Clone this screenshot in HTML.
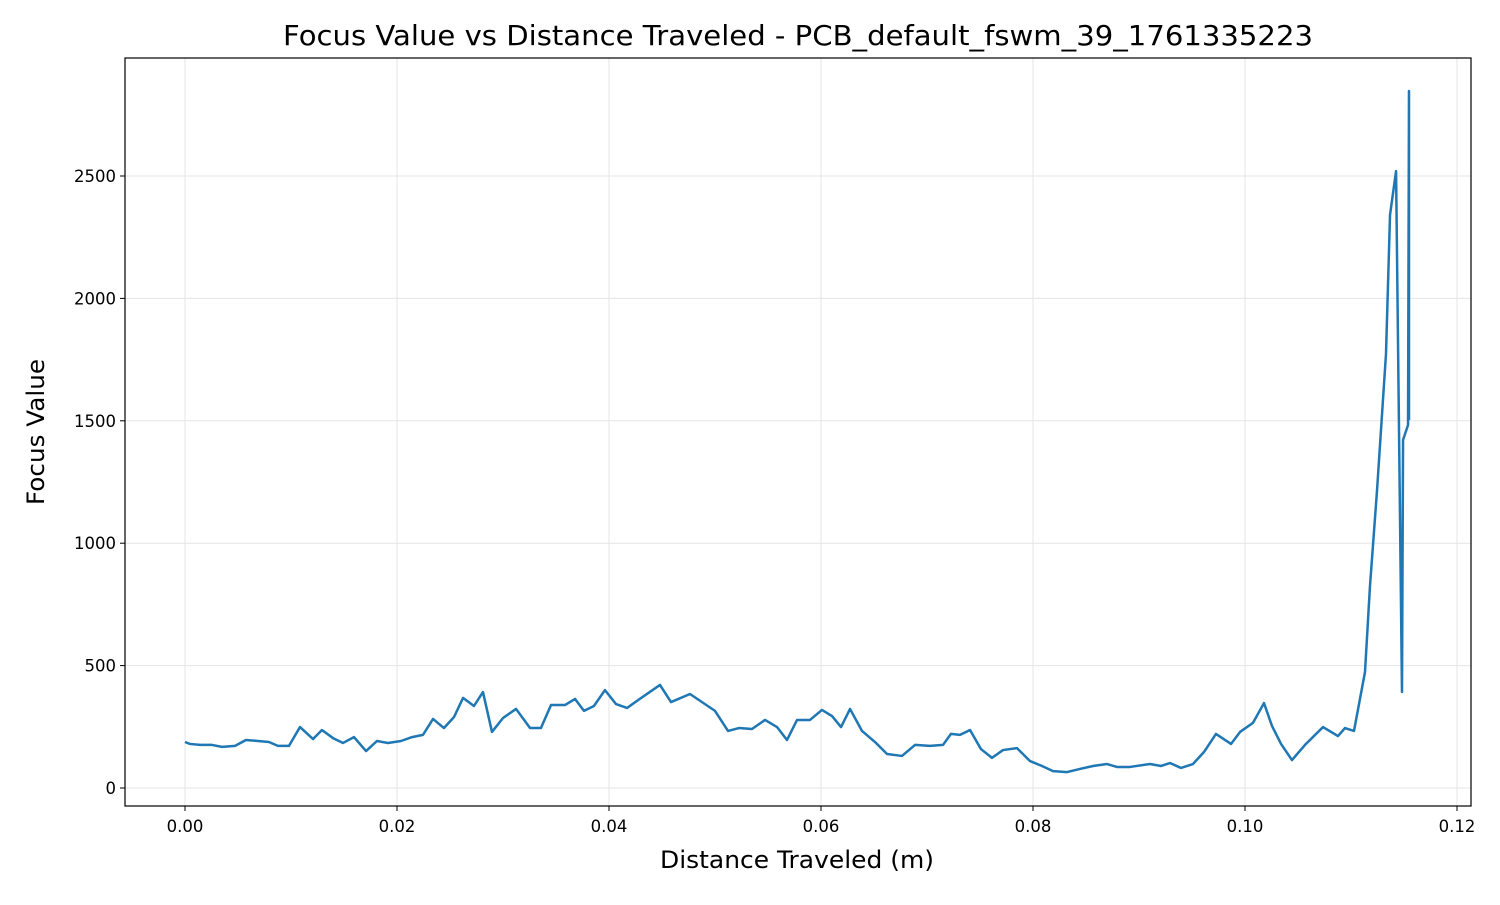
<!DOCTYPE html>
<html><head><meta charset="utf-8"><style>
body{margin:0;background:#fff;}
svg text{font-family:"DejaVu Sans","Liberation Sans",sans-serif;fill:#000;}
</style></head><body>
<svg id="chart" width="1500" height="900" xmlns="http://www.w3.org/2000/svg">
<rect width="1500" height="900" fill="#fff"/>
<text x="798" y="45" font-size="28" text-anchor="middle" textLength="1030" lengthAdjust="spacingAndGlyphs">Focus Value vs Distance Traveled - PCB_default_fswm_39_1761335223</text>
<text x="797" y="868" font-size="24" text-anchor="middle" textLength="274" lengthAdjust="spacingAndGlyphs">Distance Traveled (m)</text>
<text x="0" y="0" font-size="24" text-anchor="middle" textLength="146" lengthAdjust="spacingAndGlyphs" transform="translate(44,432) rotate(-90)">Focus Value</text>
<g id="grid"></g><g id="ticks"></g><g id="series"></g>
<rect x="125" y="58" width="1346" height="748" fill="none" stroke="#000" stroke-width="1.2"/>
</svg>
<script>
const distanceMm=[0,0.47,1.42,2.55,3.49,4.72,5.75,6.89,7.92,8.77,9.81,10.85,12.08,12.92,13.96,14.91,15.94,17.08,18.11,19.15,20.38,21.42,22.45,23.40,24.43,25.38,26.23,27.26,28.11,28.96,30.00,31.23,32.55,33.58,34.53,35.85,36.79,37.64,38.58,39.62,40.66,41.70,42.74,44.81,45.85,47.64,50.00,51.23,52.26,53.49,54.72,55.85,56.79,57.74,58.96,60.09,61.04,61.89,62.74,63.87,65.19,66.23,67.64,68.87,70.28,71.51,72.26,73.11,74.06,75.09,76.13,77.17,78.49,79.72,80.85,81.89,83.21,84.43,85.66,86.98,87.92,89.15,91.04,92.08,92.92,93.96,95.09,96.13,97.26,98.68,99.53,100.75,101.79,102.55,103.40,104.43,105.66,107.36,108.77,109.43,110.28,111.32,111.79,112.45,113.30,113.68,114.25,114.81,114.91,115.38,115.47,115.47];
const focusValues=[188,180,176,176,168,172,196,192,188,172,172,249,200,237,204,184,208,151,192,184,192,208,217,282,245,290,368,335,392,229,286,323,245,245,339,339,364,315,335,400,343,327,359,421,351,384,315,233,245,241,278,249,196,278,278,319,294,249,323,233,184,139,131,176,172,176,221,217,237,159,123,155,163,110,90,69,65,78,90,98,86,86,98,90,102,82,98,147,221,180,229,266,347,253,180,114,176,249,212,245,233,474,825,1213,1773,2341,2520,392,1422,1483,2847,1503];
const xTicks=[0,0.02,0.04,0.06,0.08,0.10,0.12];
const xTickLabels=["0.00","0.02","0.04","0.06","0.08","0.10","0.12"];
const yTicks=[0,500,1000,1500,2000,2500];
const yTickLabels=["0","500","1000","1500","2000","2500"];
const L=125,R=1471,T=58,B=806;
const xMin=-0.00566,xMax=0.12132,yMin=-73.5,yMax=2982;
function sx(v){return L+(v-xMin)/(xMax-xMin)*(R-L);}
function sy(v){return B-(v-yMin)/(yMax-yMin)*(B-T);}
const NS="http://www.w3.org/2000/svg";
const grid=document.getElementById('grid'),ticks=document.getElementById('ticks'),series=document.getElementById('series');
function mk(tag,attrs,parent){const e=document.createElementNS(NS,tag);for(const k in attrs)e.setAttribute(k,attrs[k]);parent.appendChild(e);return e;}
xTicks.forEach((t,i)=>{const x=sx(t);
 const g=mk('line',{x1:x,x2:x,y1:T,y2:B,stroke:'#e5e5e5','stroke-width':1},grid);
 
 
 const tk=mk('line',{x1:x,x2:x,y1:B,y2:B+5,stroke:'#000','stroke-width':1},ticks);
 
 
 const lb=mk('text',{x:x,y:B+26,'font-size':16.5,'text-anchor':'middle'},ticks);
 lb.textContent=xTickLabels[i];
 
 
});
yTicks.forEach((t,i)=>{const y=sy(t);
 const g=mk('line',{x1:L,x2:R,y1:y,y2:y,stroke:'#e5e5e5','stroke-width':1},grid);
 
 
 const tk=mk('line',{x1:L-5,x2:L,y1:y,y2:y,stroke:'#000','stroke-width':1},ticks);
 
 
 const lb=mk('text',{x:L-9,y:y+6,'font-size':16.5,'text-anchor':'end'},ticks);
 lb.textContent=yTickLabels[i];
 
 
});
const pts=distanceMm.map((d,i)=>sx(d/1000).toFixed(2)+','+sy(focusValues[i]).toFixed(2)).join(' ');
const pl=mk('polyline',{points:pts,fill:'none',stroke:'#1f77b4','stroke-width':2.5,'stroke-linejoin':'round'},series);


</script>
</body></html>
